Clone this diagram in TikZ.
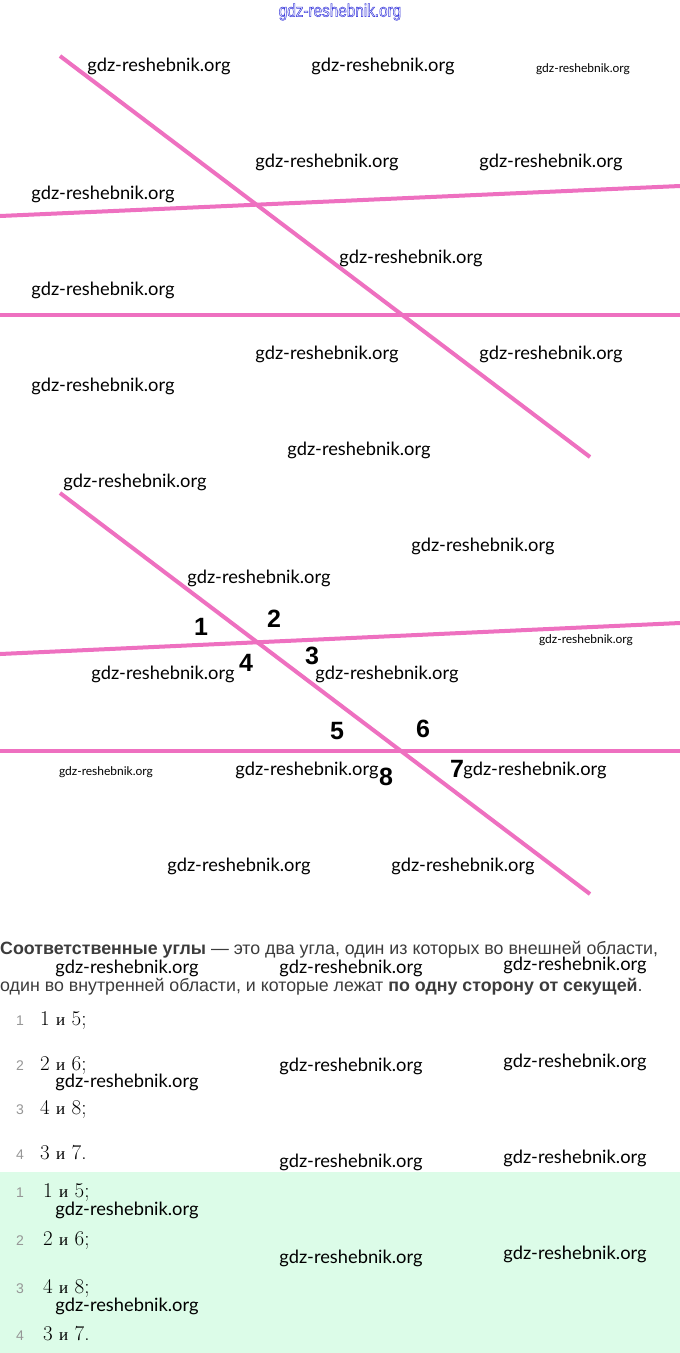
\documentclass[tikz,border=0pt]{standalone}
\usepackage{fontspec}
\newfontfamily\wmfont{Lato}
\newfontfamily\wmcond[FakeStretch=0.85]{Liberation Sans}
\newfontfamily\labfont{Liberation Sans}
\newfontfamily\parafont{Liberation Sans}
\newfontfamily\cyrserif{Liberation Serif}
\definecolor{linepink}{RGB}{238,112,192}
\definecolor{mint}{RGB}{220,252,232}
\definecolor{paragray}{RGB}{60,60,60}
\definecolor{numgray}{RGB}{150,150,150}
\definecolor{wmblue}{RGB}{60,60,220}
\tikzset{
  pinkline/.style={draw=linepink, line width=4pt},
  wm/.style={font=\wmfont\fontsize{18.3}{20}\selectfont, text=black, inner sep=0pt},
  wmsmall/.style={font=\wmfont\fontsize{12}{14}\selectfont, text=black, inner sep=0pt},
  anglab/.style={font=\labfont\bfseries\fontsize{25}{28}\selectfont, inner sep=0pt},
  paraline/.style={font=\parafont\fontsize{17.8}{20}\selectfont, text=paragray, inner sep=0pt, anchor=base west},
  itemnum/.style={font=\labfont\fontsize{14}{15}\selectfont, text=numgray, inner sep=0pt, anchor=base west},
  itemtext/.style={font=\fontsize{21}{24}\selectfont, inner sep=0pt, anchor=base west},
}
\newcommand{\ii}{{\cyrserif\fontsize{17}{20}\selectfont и}}
\newcommand{\outlinetext}[1]{\special{pdf:literal direct 1 Tr 0.5 w}#1\special{pdf:literal direct 0 Tr}}
\begin{document}
\begin{tikzpicture}[x=1pt,y=-1pt]
\useasboundingbox (0,0) rectangle (680,1353);
\fill[white] (0,0) rectangle (680,1353);
\fill[mint] (0,1172) rectangle (680,1353);

% figure 1
\coordinate (t1a) at (60,56);
\coordinate (t1b) at (590,457);
\coordinate (u1a) at (0,216);
\coordinate (u1b) at (680,186);
\coordinate (l1a) at (0,315);
\coordinate (l1b) at (680,315);
\draw[pinkline] (u1a) -- (u1b);
\draw[pinkline] (l1a) -- (l1b);
\draw[pinkline] (t1a) -- (t1b);

% figure 2
\coordinate (t2a) at (60,493);
\coordinate (t2b) at (590,894);
\coordinate (u2a) at (0,654);
\coordinate (u2b) at (680,623);
\coordinate (l2a) at (0,751);
\coordinate (l2b) at (680,751);
\draw[pinkline] (u2a) -- (u2b);
\draw[pinkline] (l2a) -- (l2b);
\draw[pinkline] (t2a) -- (t2b);

% angle labels
\node[anglab] (a1) at (201,627) {1};
\node[anglab] (a2) at (274,619) {2};
\node[anglab] (a3) at (312,656) {3};
\node[anglab] (a4) at (246,663) {4};
\node[anglab] (a5) at (337,731) {5};
\node[anglab] (a6) at (423,729) {6};
\node[anglab] (a7) at (457,769) {7};
\node[anglab] (a8) at (386,777) {8};

% paragraph
\node[paraline] (p1) at (0,954) {{\bfseries Соответственные углы} — это два угла, один из которых во внешней области,};
\node[paraline] (p2) at (0,991) {один во внутренней области, и которые лежат {\bfseries по одну сторону от секущей}.};

% list 1
\node[itemnum] (n1) at (16,1025) {1};
\node[itemtext] (i1) at (40,1025) {1 \ii\ 5;};
\node[itemnum] (n2) at (16,1070) {2};
\node[itemtext] (i2) at (40,1070) {2 \ii\ 6;};
\node[itemnum] (n3) at (16,1114) {3};
\node[itemtext] (i3) at (40,1114) {4 \ii\ 8;};
\node[itemnum] (n4) at (16,1159) {4};
\node[itemtext] (i4) at (40,1159) {3 \ii\ 7.};

% list 2 (highlighted)
\node[itemnum] (m1) at (16,1197) {1};
\node[itemtext] (j1) at (43,1197) {1 \ii\ 5;};
\node[itemnum] (m2) at (16,1245) {2};
\node[itemtext] (j2) at (43,1245) {2 \ii\ 6;};
\node[itemnum] (m3) at (16,1293) {3};
\node[itemtext] (j3) at (43,1293) {4 \ii\ 8;};
\node[itemnum] (m4) at (16,1340) {4};
\node[itemtext] (j4) at (43,1340) {3 \ii\ 7.};

% watermarks
\node[inner sep=0pt, text=wmblue, font=\wmcond\fontsize{18}{20}\selectfont] (w0) at (340,12) {\outlinetext{gdz-reshebnik.org}};
\begin{scope}[yshift=-2pt]
\node[wm] (w1) at (159,64) {gdz-reshebnik.org};
\node[wm] (w2) at (383,64) {gdz-reshebnik.org};
\node[wmsmall] (w3) at (583,67) {gdz-reshebnik.org};
\node[wm] (w4) at (327,160) {gdz-reshebnik.org};
\node[wm] (w5) at (551,160) {gdz-reshebnik.org};
\node[wm] (w6) at (103,192) {gdz-reshebnik.org};
\node[wm] (w7) at (411,256) {gdz-reshebnik.org};
\node[wm] (w8) at (103,288) {gdz-reshebnik.org};
\node[wm] (w9) at (327,352) {gdz-reshebnik.org};
\node[wm] (w10) at (551,352) {gdz-reshebnik.org};
\node[wm] (w11) at (103,384) {gdz-reshebnik.org};
\node[wm] (w12) at (359,448) {gdz-reshebnik.org};
\node[wm] (w13) at (135,480) {gdz-reshebnik.org};
\node[wm] (w14) at (483,544) {gdz-reshebnik.org};
\node[wm] (w15) at (259,576) {gdz-reshebnik.org};
\node[wmsmall] (w16) at (586,638) {gdz-reshebnik.org};
\node[wm] (w17) at (163,672) {gdz-reshebnik.org};
\node[wm] (w18) at (387,672) {gdz-reshebnik.org};
\node[wmsmall] (w19) at (106,770) {gdz-reshebnik.org};
\node[wm] (w20) at (307,768) {gdz-reshebnik.org};
\node[wm] (w21) at (535,768) {gdz-reshebnik.org};
\node[wm] (w22) at (239,864) {gdz-reshebnik.org};
\node[wm] (w23) at (463,864) {gdz-reshebnik.org};
\node[wm] (w24) at (127,966) {gdz-reshebnik.org};
\node[wm] (w25) at (351,966) {gdz-reshebnik.org};
\node[wm] (w26) at (575,963) {gdz-reshebnik.org};
\node[wm] (w27) at (351,1064) {gdz-reshebnik.org};
\node[wm] (w28) at (575,1060) {gdz-reshebnik.org};
\node[wm] (w29) at (127,1080) {gdz-reshebnik.org};
\node[wm] (w30) at (351,1160) {gdz-reshebnik.org};
\node[wm] (w31) at (575,1156) {gdz-reshebnik.org};
\node[wm] (w32) at (127,1208) {gdz-reshebnik.org};
\node[wm] (w33) at (351,1256) {gdz-reshebnik.org};
\node[wm] (w34) at (575,1252) {gdz-reshebnik.org};
\node[wm] (w35) at (127,1304) {gdz-reshebnik.org};
\end{scope}
\end{tikzpicture}
\end{document}
